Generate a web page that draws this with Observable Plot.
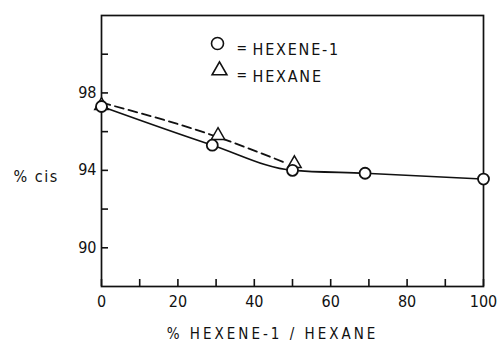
<!DOCTYPE html>
<html><head><meta charset="utf-8">
<script src="https://cdn.jsdelivr.net/npm/d3@7"></script>
<script src="https://cdn.jsdelivr.net/npm/@observablehq/plot@0.6"></script>
<style>
body{margin:0;background:#fff}
#chart{width:497px;height:347px}
</style>
</head><body><div id="chart"></div>
<script>
// HEXENE-1 series (circles, solid line)
const hexeneX = [0, 29, 50, 69, 100];
const hexeneY = [97.3, 95.3, 94.0, 93.85, 93.55];
// HEXANE series (triangles, dashed line)
const hexaneX = [0, 30.5, 50.5];
const hexaneY = [97.35, 95.8, 94.35];
const dashX = [0, 30, 48];
const dashY = [97.5, 95.75, 94.4];
// axes
const xTicks = [0, 10, 20, 30, 40, 50, 60, 70, 80, 90, 100];
const xLabels = [0, 20, 40, 60, 80, 100];
const yTicks = [90, 92, 94, 96, 98, 100];
const yLabels = [90, 94, 98];
const legendNames = ["HEXENE-1", "HEXANE"];
const xTitle = "% HEXENE-1 / HEXANE";
const yTitle = "% cis";

const W = 497, H = 347;
const M = {left: 101, right: 14, top: 15, bottom: 61};
const innerW = W - M.left - M.right, innerH = H - M.top - M.bottom;

const hexene = hexeneX.map((x, i) => ({x, y: hexeneY[i]}));
const hexane = hexaneX.map((x, i) => ({x, y: hexaneY[i]}));
const dash = dashX.map((x, i) => ({x, y: dashY[i]}));

const font = "'DejaVu Sans Condensed', 'DejaVu Sans', sans-serif";

const plot = Plot.plot({
  width: W, height: H,
  marginLeft: M.left, marginRight: M.right, marginTop: M.top, marginBottom: M.bottom,
  style: {fontFamily: font, fontSize: "16px", color: "#111", background: "#fff"},
  x: {domain: [0, 100]},
  y: {domain: [88, 102]},
  marks: [
    Plot.frame({stroke: "#111", strokeWidth: 1.7}),
    Plot.tickX(xTicks, {x: d => d, insetTop: innerH - 7, stroke: "#111", strokeWidth: 1.6}),
    Plot.tickY(yTicks, {y: d => d, insetRight: innerW - 7, stroke: "#111", strokeWidth: 1.6}),
    Plot.axisX(xLabels, {tickSize: 0, tickPadding: 9, fontSize: 16, label: null}),
    Plot.axisY(yLabels, {tickSize: 0, tickPadding: 5, fontSize: 16, label: null}),
    Plot.line(hexene, {x: "x", y: "y", curve: "monotone-x", stroke: "#111", strokeWidth: 1.6}),
    Plot.line(dash, {x: "x", y: "y", curve: "monotone-x", stroke: "#111", strokeWidth: 1.8, strokeDasharray: "9,5"}),
    Plot.dot(hexane, {x: "x", y: "y", symbol: "triangle", r: 5, fill: "white", stroke: "#111", strokeWidth: 1.5}),
    Plot.dot(hexene, {x: "x", y: "y", symbol: "circle", r: 5.5, fill: "white", stroke: "#111", strokeWidth: 1.8}),
    // legend
    Plot.dot([legendNames[0]], {frameAnchor: "top-left", dx: 116, dy: 28, symbol: "circle", r: 6, fill: "white", stroke: "#111", strokeWidth: 1.6}),
    Plot.dot([legendNames[1]], {frameAnchor: "top-left", dx: 118, dy: 55, symbol: "triangle", r: 5.5, fill: "white", stroke: "#111", strokeWidth: 1.6}),
    Plot.text(["="], {text: d => d, frameAnchor: "top-left", dx: 135, dy: 28, fontSize: 14}),
    Plot.text(["="], {text: d => d, frameAnchor: "top-left", dx: 135, dy: 55, fontSize: 14}),
    Plot.text([legendNames[0]], {text: d => d, frameAnchor: "top-left", dx: 151, dy: 28, textAnchor: "start", fontSize: 16}),
    Plot.text([legendNames[1]], {text: d => d, frameAnchor: "top-left", dx: 151, dy: 55, textAnchor: "start", fontSize: 16}),
    // titles
    Plot.text([yTitle], {text: d => d, frameAnchor: "top-left", dx: -88, dy: 155, textAnchor: "start", fontSize: 16}),
    Plot.text([xTitle], {text: d => d, frameAnchor: "bottom", dx: -20, dy: 52, fontSize: 15})
  ]
});
// widen the lettering like the reference's stencil text
d3.select(plot).selectAll("text").each(function() {
  const t = this.textContent;
  if (t === xTitle) this.setAttribute("letter-spacing", "3px");
  if (legendNames.includes(t)) this.setAttribute("letter-spacing", "1.8px");
  if (t === yTitle) this.setAttribute("letter-spacing", "1.5px");
});
document.getElementById("chart").append(plot);
</script>
</body></html>
